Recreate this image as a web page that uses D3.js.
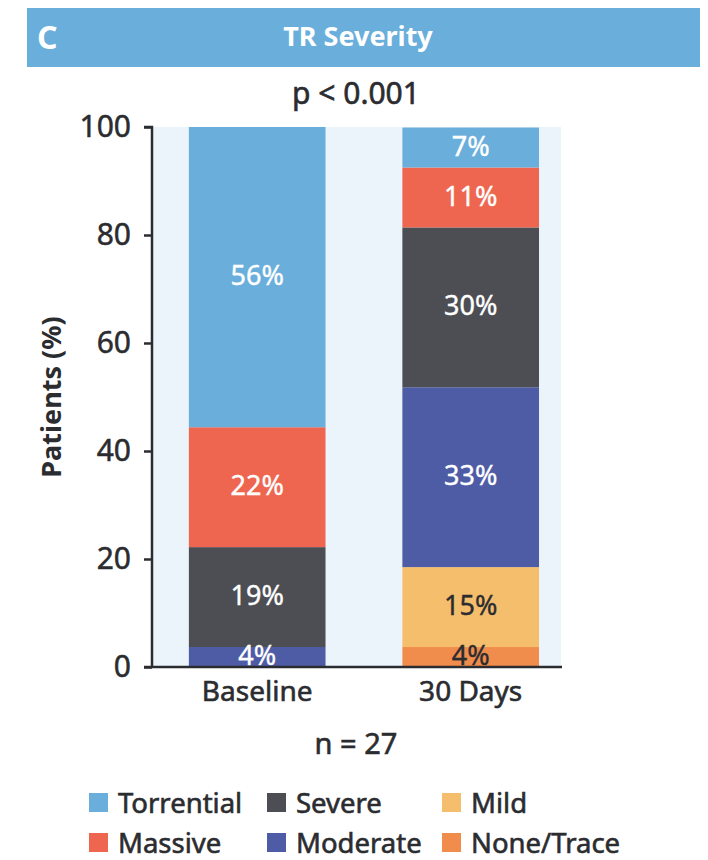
<!DOCTYPE html>
<html><head><meta charset="utf-8">
<script src="https://cdn.jsdelivr.net/npm/d3@7"></script>
<style>
html,body{margin:0;padding:0;background:#fff;}
svg{display:block;font-family:"Noto Sans",sans-serif;}
</style></head>
<body>
<svg id="chart" width="708" height="860"></svg>
<script>
const categories = ["Baseline", "30 Days"];
const severities = ["None/Trace", "Mild", "Moderate", "Severe", "Massive", "Torrential"];
// percentages per category (n = 27)
const noneTrace  = [0, 3.7];
const mild       = [0, 14.8];
const moderate   = [3.7, 33.3];
const severe     = [18.5, 29.6];
const massive    = [22.2, 11.1];
const torrential = [55.6, 7.4];
const labelsText = {
  "None/Trace": ["", "4%"], "Mild": ["", "15%"], "Moderate": ["4%", "33%"],
  "Severe": ["19%", "30%"], "Massive": ["22%", "11%"], "Torrential": ["56%", "7%"]
};
const yTicks = [0, 20, 40, 60, 80, 100];
const legendOrder = [["Torrential", "Severe", "Mild"], ["Massive", "Moderate", "None/Trace"]];
const colors = {
  "Torrential": "#6aaedb", "Massive": "#ee6650", "Severe": "#4d4e53",
  "Moderate": "#4e5ba5", "Mild": "#f5be6c", "None/Trace": "#f08d4c"
};
const darkLabel = {"Mild": true, "None/Trace": true};
const textColor = "#2b2c30";

const seriesVals = {"None/Trace": noneTrace, "Mild": mild, "Moderate": moderate,
  "Severe": severe, "Massive": massive, "Torrential": torrential};
const table = categories.map((c, i) => {
  const o = {category: c};
  severities.forEach(s => o[s] = seriesVals[s][i]);
  return o;
});

const svg = d3.select("#chart");
function heavy(sel, col, w) {
  return sel.attr("stroke", col).attr("stroke-width", w || 0.6).attr("paint-order", "stroke");
}

// header
svg.append("rect").attr("x", 27).attr("y", 8).attr("width", 673).attr("height", 59).attr("fill", "#6aaedb");
svg.append("text").attr("x", 37).attr("y", 49).attr("fill", "#fff").attr("font-size", 32)
  .attr("font-weight", "bold").text("C");
svg.append("text").attr("x", 358).attr("y", 46).attr("fill", "#fff").attr("font-size", 27)
  .attr("font-weight", "bold").attr("text-anchor", "middle").text("TR Severity");

heavy(svg.append("text").attr("x", 356).attr("y", 104).attr("fill", textColor).attr("font-size", 30)
  .attr("text-anchor", "middle").text("p < 0.001"), textColor);

const x = d3.scaleBand().domain(categories).range([153, 561])
  .paddingInner(0.36).paddingOuter(0.1355).align(0.62);
const y = d3.scaleLinear().domain([0, 100]).range([667, 127]);

// plot background
svg.append("rect").attr("x", 153).attr("y", y(100)).attr("width", 561 - 153).attr("height", y(0) - y(100))
  .attr("fill", "#ebf3fb");

const stack = d3.stack().keys(severities)(table);
const g = svg.append("g");
stack.forEach(layer => {
  const key = layer.key;
  layer.forEach((d, i) => {
    if (d[1] - d[0] <= 0) return;
    g.append("rect").attr("x", x(d.data.category)).attr("width", x.bandwidth())
      .attr("y", y(d[1])).attr("height", y(d[0]) - y(d[1])).attr("fill", colors[key]);
  });
});
stack.forEach(layer => {
  const key = layer.key;
  layer.forEach((d, i) => {
    const t = labelsText[key][i];
    if (!t) return;
    const mid = (y(d[0]) + y(d[1])) / 2;
    const col = darkLabel[key] ? textColor : "#fff";
    heavy(g.append("text").attr("x", x(d.data.category) + x.bandwidth() / 2).attr("y", mid)
      .attr("dy", "0.3em").attr("text-anchor", "middle").attr("font-size", 27)
      .attr("fill", col).text(t), col, 0.4);
  });
});

// y axis
const yAxis = d3.axisLeft(y).tickValues(yTicks).tickSize(8).tickPadding(13);
const ya = svg.append("g").attr("transform", "translate(152,0)").call(yAxis);
ya.select(".domain").attr("stroke", textColor).attr("stroke-width", 2.5).attr("d", "M-8,127H0V667");
ya.selectAll(".tick line").attr("stroke", textColor).attr("stroke-width", 2.5);
heavy(ya.selectAll(".tick text").attr("fill", textColor).attr("font-size", 30).attr("font-family", "Noto Sans"), textColor, 0.5);

// x axis
const xAxis = d3.axisBottom(x).tickSize(0).tickPadding(14);
const xa = svg.append("g").attr("transform", "translate(0,667)").call(xAxis);
xa.select(".domain").attr("stroke", textColor).attr("stroke-width", 2.5).attr("d", "M144,0H562");
heavy(xa.selectAll(".tick text").attr("fill", textColor).attr("font-size", 28).attr("font-family", "Noto Sans"), textColor, 0.6);

svg.append("text").attr("transform", "translate(61,397) rotate(-90)").attr("text-anchor", "middle")
  .attr("fill", textColor).attr("font-size", 27).attr("font-weight", "bold").text("Patients (%)");

heavy(svg.append("text").attr("x", 356).attr("y", 754).attr("text-anchor", "middle")
  .attr("fill", textColor).attr("font-size", 29).text("n = 27"), textColor);

// legend
const colX = [89, 267, 442];
const rowY = [803, 843];
legendOrder.forEach((row, r) => {
  row.forEach((k, c) => {
    svg.append("rect").attr("x", colX[c]).attr("y", rowY[r] - 10).attr("width", 19).attr("height", 19)
      .attr("fill", colors[k]);
    heavy(svg.append("text").attr("x", colX[c] + 29).attr("y", rowY[r]).attr("dy", "0.36em")
      .attr("fill", textColor).attr("font-size", 27.5).text(k), textColor);
  });
});
</script>
</body></html>
